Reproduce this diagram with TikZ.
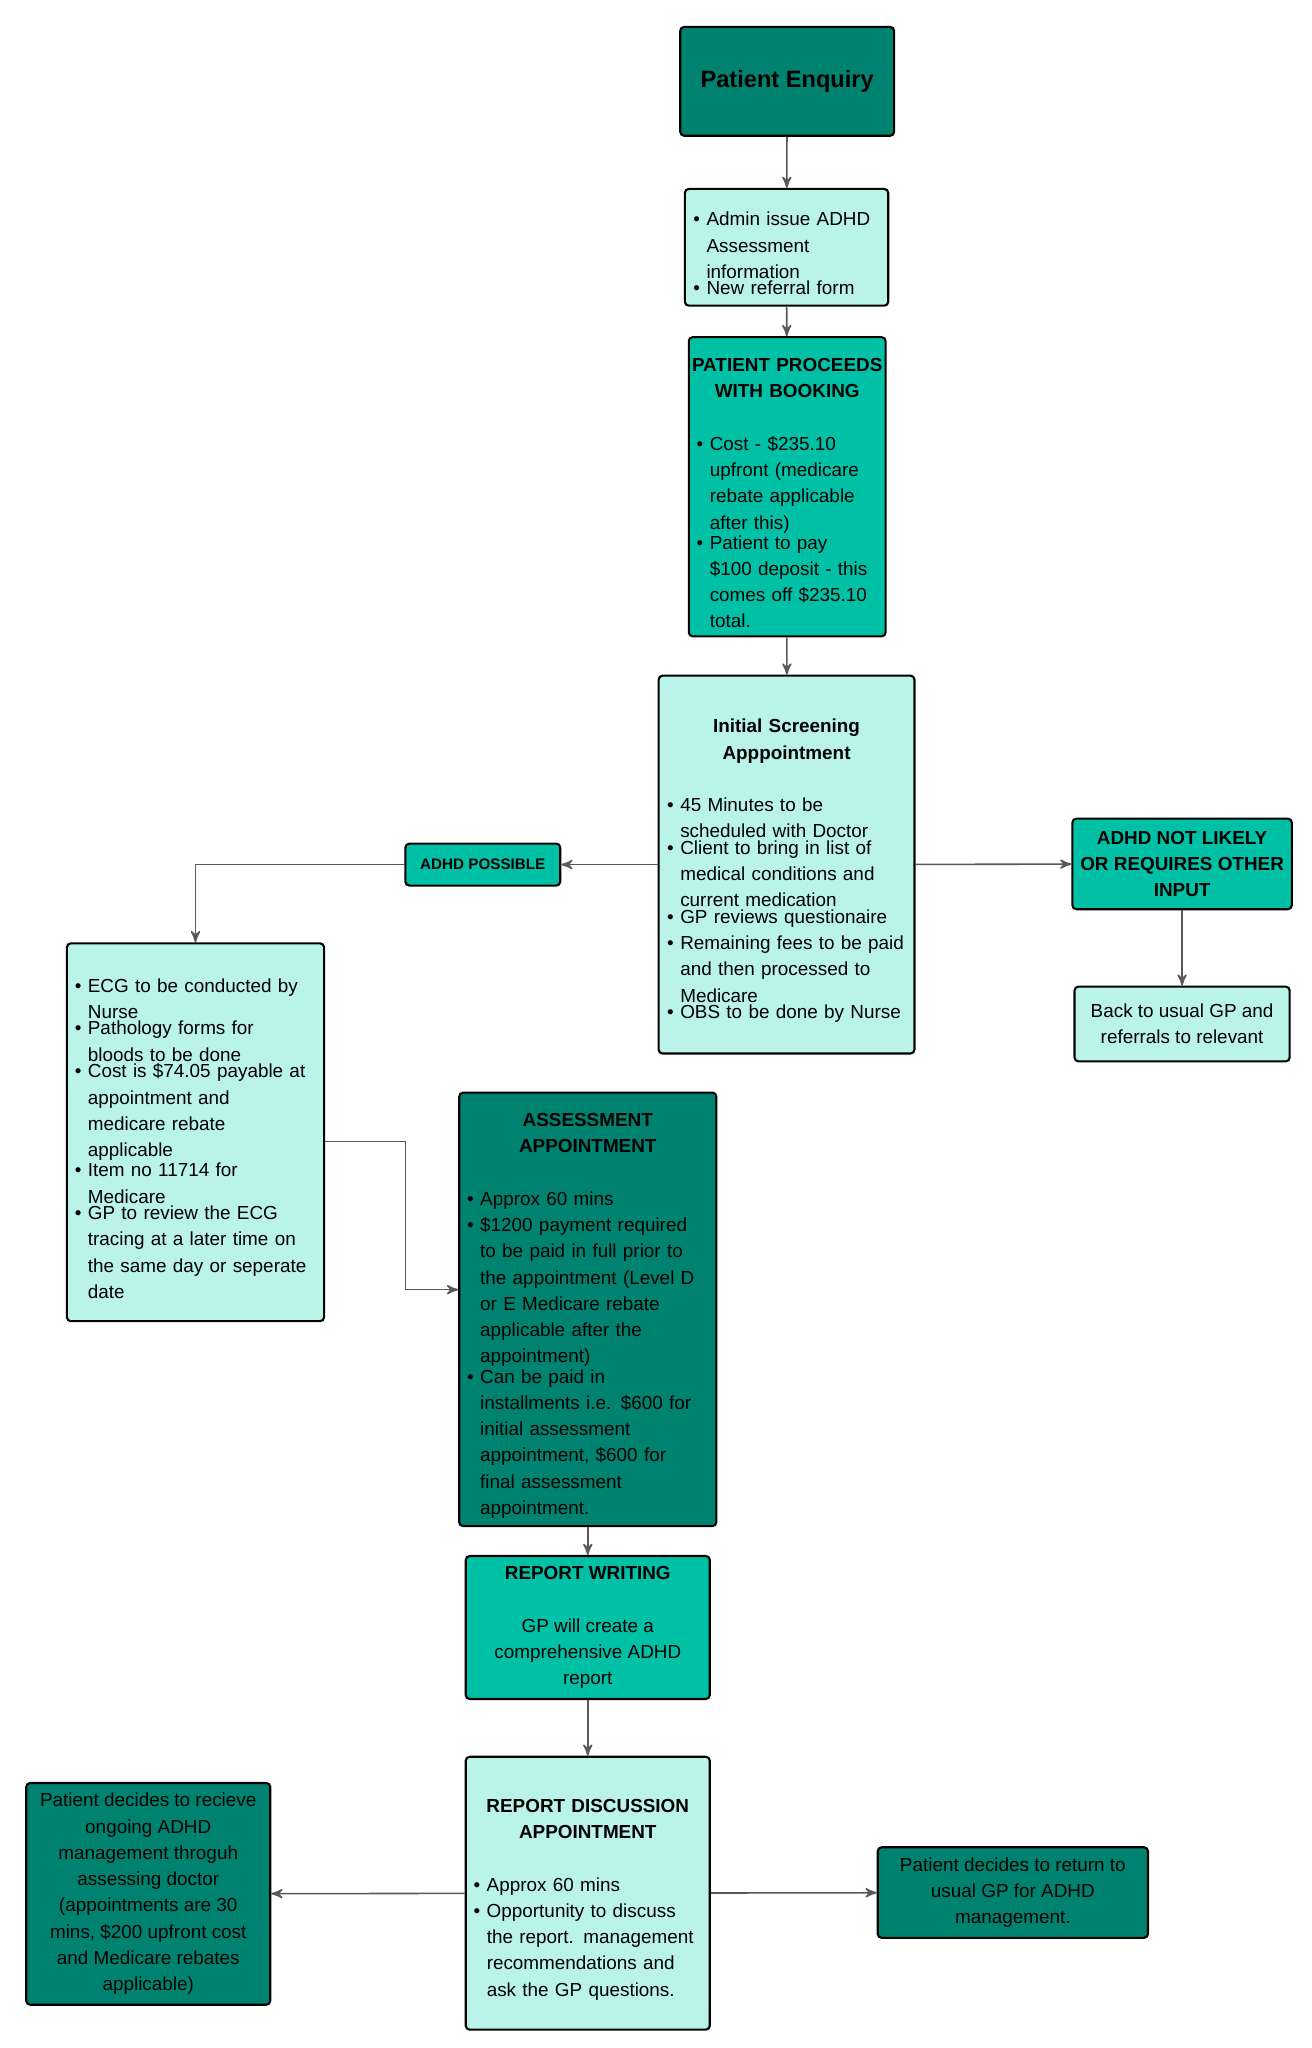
\documentclass[tikz,border=0pt]{standalone}
\usepackage{fontspec}
\setmainfont{Liberation Sans}
\usetikzlibrary{arrows,shapes}
\definecolor{darkteal}{RGB}{0,130,112}
\definecolor{midteal}{RGB}{0,192,166}
\definecolor{lightteal}{RGB}{186,243,234}
\newcommand{\bul}[1]{\par\noindent\makebox[5pt][l]{\textbullet}\parbox[t]{\dimexpr\linewidth-5pt}{\raggedright #1}\par}
\newcommand{\hdr}[1]{\par\noindent\makebox[\linewidth][c]{\bfseries #1}\par}

\begin{document}
\begin{tikzpicture}[
  x=0.5pt, y=-0.5pt,
  font=\fontsize{7.2}{10}\selectfont,
  box/.style={draw, thick, rounded corners=1.5pt, inner sep=3pt},
  light/.style={box, fill=lightteal},
  mid/.style={box, fill=midteal},
  dark/.style={box, fill=darkteal},
  arrow/.style={->, >=stealth', draw=black!65, semithick},
  every node/.style={align=center}]

  \useasboundingbox (0,0) rectangle (1000,1561);

  % Main column
  \node[dark, minimum width=81.5pt, minimum height=41.5pt, font=\bfseries\fontsize{9}{11}\selectfont] (enquiry) at (600,62) {Patient Enquiry};
  \node[light, minimum width=77.5pt, minimum height=44.5pt, text width=71pt, align=left] (admin) at (599.5,188.5)
    {\bul{Admin issue ADHD\\Assessment\\information}\bul{New referral form}};
  \node[mid, minimum width=75pt, minimum height=114pt, text width=69pt, align=left] (booking) at (600,371)
    {\hdr{PATIENT PROCEEDS}\hdr{WITH BOOKING}\vspace{10pt}
     \bul{Cost - \$235.10\\upfront (medicare\\rebate applicable\\after this)}\bul{Patient to pay\\\$100 deposit - this\\comes off \$235.10\\total.}};
  \node[light, minimum width=97.5pt, minimum height=144pt, text width=91pt, align=left] (screening) at (599.5,659)
    {\hdr{Initial Screening}\hdr{Apppointment}\vspace{10pt}
     \bul{45 Minutes to be\\scheduled with Doctor}\bul{Client to bring in list of\\medical conditions and\\current medication}%
     \bul{GP reviews questionaire}\bul{Remaining fees to be paid\\and then processed to\\Medicare}\bul{OBS to be done by Nurse}};

  % Side branches
  \node[mid, minimum width=59pt, minimum height=16pt, font=\bfseries\fontsize{5.8}{7}\selectfont] (possible) at (368,659) {ADHD POSSIBLE};
  \node[mid, minimum width=77pt, minimum height=34.5pt, font=\fontsize{7.2}{10}\selectfont\bfseries] (notlikely) at (901,658.5) {ADHD NOT LIKELY\\OR REQUIRES OTHER\\INPUT};
  \node[light, minimum width=82pt, minimum height=28.5pt] (backgp) at (901,780.5) {Back to usual GP and\\referrals to relevant};
  \node[light, minimum width=98pt, minimum height=144pt, text width=92pt, align=left] (ecg) at (149,863)
    {\bul{ECG to be conducted by\\Nurse}\bul{Pathology forms for\\bloods to be done}\bul{Cost is \$74.05 payable at\\appointment and\\medicare rebate\\applicable}%
     \bul{Item no 11714 for\\Medicare}\bul{GP to review the ECG\\tracing at a later time on\\the same day or seperate\\date}};

  \node[dark, minimum width=98pt, minimum height=164pt, text width=92pt, align=left] (assessment) at (448,998)
    {\hdr{ASSESSMENT}\hdr{APPOINTMENT}\vspace{10pt}
     \bul{Approx 60 mins}\bul{\$1200 payment required\\to be paid in full prior to\\the appointment (Level D\\or E Medicare rebate\\applicable after the\\appointment)}%
     \bul{Can be paid in\\installments i.e. \$600 for\\initial assessment\\appointment, \$600 for\\final assessment\\appointment.}};
  \node[mid, minimum width=93pt, minimum height=54.5pt] (report) at (448,1240.5)
    {\textbf{REPORT WRITING}\\[10pt]GP will create a\\comprehensive ADHD\\report};
  \node[light, minimum width=93pt, minimum height=104pt, text width=87pt, align=left] (discussion) at (448,1443)
    {\hdr{REPORT DISCUSSION}\hdr{APPOINTMENT}\vspace{10pt}
     \bul{Approx 60 mins}\bul{Opportunity to discuss\\the report. management\\recommendations and\\ask the GP questions.}};
  \node[dark, minimum width=93pt, minimum height=84.5pt] (ongoing) at (113,1443.5)
    {Patient decides to recieve\\ongoing ADHD\\management throguh\\assessing doctor\\(appointments are 30\\mins, \$200 upfront cost\\and Medicare rebates\\applicable)};
  \node[dark, minimum width=103pt, minimum height=34.5pt] (returngp) at (772,1442.5)
    {Patient decides to return to\\usual GP for ADHD\\management.};

  % Connectors
  \draw[arrow] (enquiry) -- (admin);
  \draw[arrow] (admin) -- (booking);
  \draw[arrow] (booking) -- (screening);
  \draw[arrow] (screening) -- (possible);
  \draw[arrow] (possible.west) -| (ecg.north);
  \draw[arrow] (screening) -- (notlikely);
  \draw[arrow] (notlikely) -- (backgp);
  \draw[arrow] (ecg.east |- 0,870) -- (309,870) -- (309,983) -- (assessment.west |- 0,983);
  \draw[arrow] (assessment) -- (report);
  \draw[arrow] (report) -- (discussion);
  \draw[arrow] (discussion) -- (ongoing);
  \draw[arrow] (discussion) -- (returngp);

\end{tikzpicture}
\end{document}
